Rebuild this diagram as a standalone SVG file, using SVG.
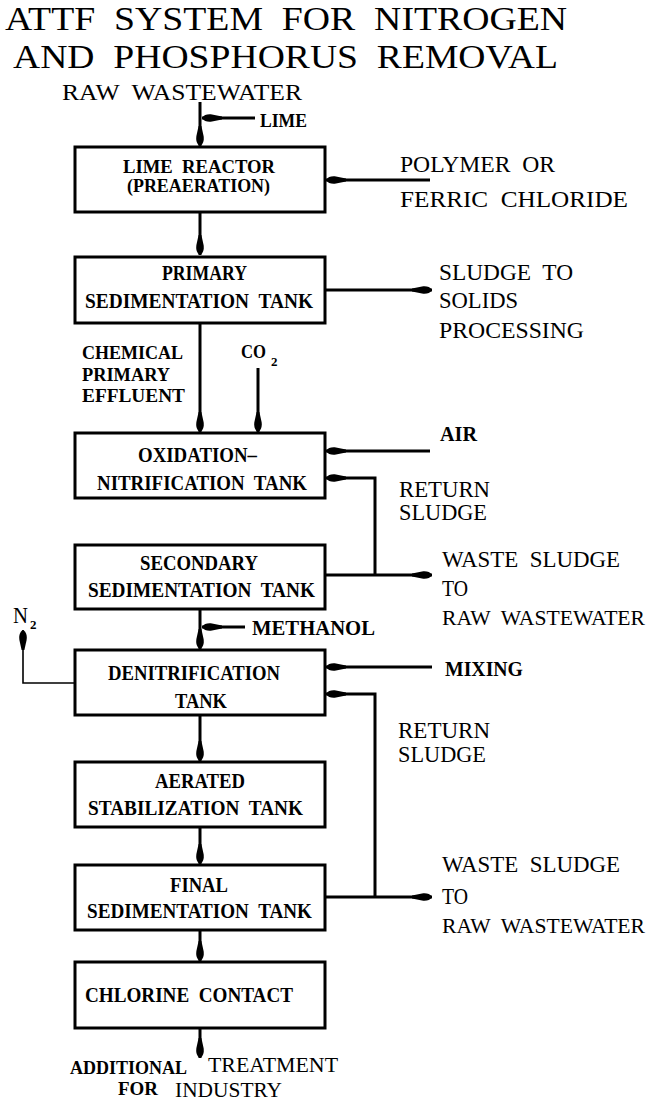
<svg xmlns="http://www.w3.org/2000/svg" width="654" height="1102" viewBox="0 0 654 1102">
<style>
.box{fill:#fff;stroke:#000;stroke-width:3}
.ln{fill:none;stroke:#000;stroke-width:3;stroke-linejoin:miter}
.thin{fill:none;stroke:#000;stroke-width:1.6}
text{font-family:"Liberation Serif","Times New Roman",serif;fill:#000;white-space:pre}
.title{font-size:34px}
.tw{font-size:23px}
.tws{font-size:21px}
.twr{font-size:20.5px}
.bx{font-size:21px;font-weight:bold}
.bxs{font-size:18px;font-weight:bold}
.sm{font-size:18px;font-weight:bold}
.sub{font-size:13px;font-weight:bold}
</style>
<defs>
<marker id="ah" markerUnits="userSpaceOnUse" markerWidth="22" markerHeight="12" viewBox="-21 -6 22 12" refX="0" refY="0" orient="auto">
<path d="M0,0 C-2,-3.5 -6,-4.2 -10,-3.6 L-20,-1.4 L-20,1.4 L-10,3.6 C-6,4.2 -2,3.5 0,0 Z" fill="#000"/>
</marker>
</defs>
<rect width="654" height="1102" fill="#fff"/>
<g id="title">
<text class="title" x="5" y="30" textLength="562" lengthAdjust="spacingAndGlyphs">ATTF  SYSTEM  FOR  NITROGEN</text>
<text class="title" x="13" y="68" textLength="545" lengthAdjust="spacingAndGlyphs">AND  PHOSPHORUS  REMOVAL</text>
</g>
<g id="labels">
<text class="tw" x="62" y="100" textLength="240" lengthAdjust="spacingAndGlyphs">RAW  WASTEWATER</text>
<text class="sm" x="260" y="127" textLength="47" lengthAdjust="spacingAndGlyphs">LIME</text>
<text class="tw" x="400" y="172" textLength="155" lengthAdjust="spacingAndGlyphs">POLYMER  OR</text>
<text class="tw" x="400" y="207" textLength="228" lengthAdjust="spacingAndGlyphs">FERRIC  CHLORIDE</text>
<text class="tw" x="439" y="280" textLength="134" lengthAdjust="spacingAndGlyphs">SLUDGE  TO</text>
<text class="tw" x="439" y="308" textLength="79" lengthAdjust="spacingAndGlyphs">SOLIDS</text>
<text class="tw" x="439" y="338" textLength="145" lengthAdjust="spacingAndGlyphs">PROCESSING</text>
<text class="bxs" x="82" y="359" textLength="101" lengthAdjust="spacingAndGlyphs">CHEMICAL</text>
<text class="bxs" x="82" y="381" textLength="88" lengthAdjust="spacingAndGlyphs">PRIMARY</text>
<text class="bxs" x="82" y="402" textLength="103" lengthAdjust="spacingAndGlyphs">EFFLUENT</text>
<text class="bxs" x="241" y="358" textLength="25" lengthAdjust="spacingAndGlyphs">CO</text>
<text class="sub" x="271" y="366">2</text>
<text class="bx" x="440" y="441" textLength="37" lengthAdjust="spacingAndGlyphs">AIR</text>
<text class="tw" x="399" y="497" textLength="91" lengthAdjust="spacingAndGlyphs">RETURN</text>
<text class="tw" x="399" y="520" textLength="88" lengthAdjust="spacingAndGlyphs">SLUDGE</text>
<text class="tw" x="442" y="567" textLength="178" lengthAdjust="spacingAndGlyphs">WASTE  SLUDGE</text>
<text class="tw" x="442" y="596" textLength="26" lengthAdjust="spacingAndGlyphs">TO</text>
<text class="twr" x="442" y="625" textLength="203" lengthAdjust="spacingAndGlyphs">RAW  WASTEWATER</text>
<text class="tw" x="13" y="623" textLength="15" lengthAdjust="spacingAndGlyphs">N</text>
<text class="sub" x="30" y="629">2</text>
<text class="bx" x="252" y="635" textLength="123" lengthAdjust="spacingAndGlyphs">METHANOL</text>
<text class="bx" x="445" y="676" textLength="78" lengthAdjust="spacingAndGlyphs">MIXING</text>
<text class="tw" x="398" y="738" textLength="92" lengthAdjust="spacingAndGlyphs">RETURN</text>
<text class="tw" x="398" y="762" textLength="88" lengthAdjust="spacingAndGlyphs">SLUDGE</text>
<text class="tw" x="442" y="872" textLength="178" lengthAdjust="spacingAndGlyphs">WASTE  SLUDGE</text>
<text class="tw" x="442" y="904" textLength="26" lengthAdjust="spacingAndGlyphs">TO</text>
<text class="twr" x="442" y="933" textLength="203" lengthAdjust="spacingAndGlyphs">RAW  WASTEWATER</text>
<text class="bxs" x="70" y="1074" textLength="117" lengthAdjust="spacingAndGlyphs">ADDITIONAL</text>
<text class="tws" x="208" y="1072" textLength="130" lengthAdjust="spacingAndGlyphs">TREATMENT</text>
<text class="bxs" x="118" y="1095" textLength="40" lengthAdjust="spacingAndGlyphs">FOR</text>
<text class="tws" x="175" y="1097" textLength="107" lengthAdjust="spacingAndGlyphs">INDUSTRY</text>
</g>
<g id="lime-reactor">
<rect class="box" x="75" y="147" width="250" height="65"/>
<text class="bxs" x="123" y="173" textLength="152" lengthAdjust="spacingAndGlyphs">LIME  REACTOR</text>
<text class="bxs" x="127" y="192" textLength="143" lengthAdjust="spacingAndGlyphs">(PREAERATION)</text>
</g>
<g id="primary-sedimentation">
<rect class="box" x="75" y="257" width="250" height="66"/>
<text class="bx" x="162" y="280" textLength="85" lengthAdjust="spacingAndGlyphs">PRIMARY</text>
<text class="bx" x="85" y="308" textLength="228" lengthAdjust="spacingAndGlyphs">SEDIMENTATION  TANK</text>
</g>
<g id="oxidation-nitrification">
<rect class="box" x="75" y="433" width="250" height="65"/>
<text class="bx" x="138" y="462" textLength="119" lengthAdjust="spacingAndGlyphs">OXIDATION–</text>
<text class="bx" x="97" y="490" textLength="210" lengthAdjust="spacingAndGlyphs">NITRIFICATION  TANK</text>
</g>
<g id="secondary-sedimentation">
<rect class="box" x="75" y="545" width="250" height="64"/>
<text class="bx" x="140" y="570" textLength="118" lengthAdjust="spacingAndGlyphs">SECONDARY</text>
<text class="bx" x="88" y="597" textLength="227" lengthAdjust="spacingAndGlyphs">SEDIMENTATION  TANK</text>
</g>
<g id="denitrification">
<rect class="box" x="75" y="650" width="250" height="65"/>
<text class="bx" x="108" y="680" textLength="172" lengthAdjust="spacingAndGlyphs">DENITRIFICATION</text>
<text class="bx" x="175" y="708" textLength="52" lengthAdjust="spacingAndGlyphs">TANK</text>
</g>
<g id="aerated-stabilization">
<rect class="box" x="75" y="762" width="250" height="65"/>
<text class="bx" x="155" y="788" textLength="90" lengthAdjust="spacingAndGlyphs">AERATED</text>
<text class="bx" x="88" y="815" textLength="215" lengthAdjust="spacingAndGlyphs">STABILIZATION  TANK</text>
</g>
<g id="final-sedimentation">
<rect class="box" x="75" y="865" width="250" height="65"/>
<text class="bx" x="170" y="892" textLength="58" lengthAdjust="spacingAndGlyphs">FINAL</text>
<text class="bx" x="87" y="918" textLength="225" lengthAdjust="spacingAndGlyphs">SEDIMENTATION  TANK</text>
</g>
<g id="chlorine-contact">
<rect class="box" x="75" y="962" width="250" height="66"/>
<text class="bx" x="85" y="1002" textLength="208" lengthAdjust="spacingAndGlyphs">CHLORINE  CONTACT</text>
</g>
<g id="connectors">
<line class="ln" x1="200" y1="102" x2="200" y2="146" marker-end="url(#ah)"/>
<line class="ln" x1="255" y1="118" x2="202" y2="118" marker-end="url(#ah)"/>
<line class="ln" x1="430" y1="180" x2="326" y2="180" marker-end="url(#ah)"/>
<line class="ln" x1="200" y1="212" x2="200" y2="255" marker-end="url(#ah)"/>
<line class="ln" x1="325" y1="290" x2="432" y2="290" marker-end="url(#ah)"/>
<line class="ln" x1="200" y1="323" x2="200" y2="432" marker-end="url(#ah)"/>
<line class="ln" x1="258" y1="368" x2="258" y2="432" marker-end="url(#ah)"/>
<line class="ln" x1="430" y1="451" x2="326" y2="451" marker-end="url(#ah)"/>
<polyline class="ln" points="375,575 375,478 326,478" marker-end="url(#ah)"/>
<line class="ln" x1="325" y1="575" x2="432" y2="575" marker-end="url(#ah)"/>
<line class="ln" x1="200" y1="609" x2="200" y2="649" marker-end="url(#ah)"/>
<line class="ln" x1="245" y1="627" x2="202" y2="627" marker-end="url(#ah)"/>
<polyline class="thin" points="75,683 23,683 23,630" marker-end="url(#ah)"/>
<line class="ln" x1="432" y1="667" x2="326" y2="667" marker-end="url(#ah)"/>
<polyline class="ln" points="375,897 375,694 326,694" marker-end="url(#ah)"/>
<line class="ln" x1="325" y1="897" x2="432" y2="897" marker-end="url(#ah)"/>
<line class="ln" x1="200" y1="715" x2="200" y2="761" marker-end="url(#ah)"/>
<line class="ln" x1="200" y1="827" x2="200" y2="864" marker-end="url(#ah)"/>
<line class="ln" x1="200" y1="930" x2="200" y2="961" marker-end="url(#ah)"/>
<line class="ln" x1="200" y1="1028" x2="200" y2="1058" marker-end="url(#ah)"/>
</g>
</svg>
